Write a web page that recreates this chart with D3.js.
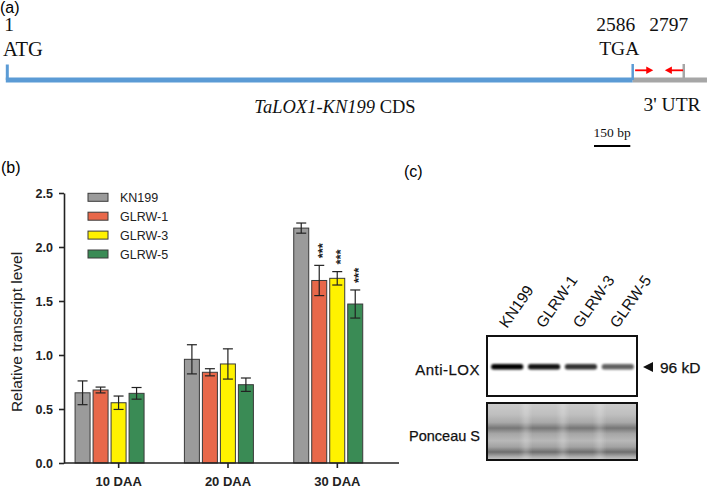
<!DOCTYPE html>
<html><head><meta charset="utf-8">
<script src="https://cdn.jsdelivr.net/npm/d3@7"></script>
<style>body{margin:0;background:#fff}svg{display:block}</style>
</head><body><svg id="c" width="709" height="489"></svg>
<script>
// ---------- Panel (a) data ----------
const geneMarks = [1, 2586, 2797];
const geneMarkLabels = ["1", "2586", "2797"];
const codonLabels = ["ATG", "TGA"];
const transcriptEnd = 2893;
const primerForward = [2596, 2671];
const primerReverse = [2794, 2719];
const scaleBarBp = 150;

// ---------- Panel (b) data ----------
const groups = ["10 DAA", "20 DAA", "30 DAA"];
const series = ["KN199", "GLRW-1", "GLRW-3", "GLRW-5"];
const seriesColors = ["#9b9b9b", "#e8684a", "#fff200", "#3a8b55"];
const kn199 = [0.65, 0.96, 2.175];
const kn199Err = [0.11, 0.135, 0.047];
const glrw1 = [0.676, 0.84, 1.69];
const glrw1Err = [0.027, 0.033, 0.14];
const glrw3 = [0.558, 0.917, 1.71];
const glrw3Err = [0.062, 0.14, 0.062];
const glrw5 = [0.645, 0.725, 1.472];
const glrw5Err = [0.054, 0.062, 0.13];
const stars = [["", "", "", ""], ["", "", "", ""], ["", "***", "***", "***"]];
const yTicks = [0, 0.5, 1.0, 1.5, 2.0, 2.5];

// ---------- Panel (c) data ----------
const lanes = ["KN199", "GLRW-1", "GLRW-3", "GLRW-5"];
const loxIntensity = [1.0, 0.92, 0.8, 0.62];
const blotLabels = ["Anti-LOX", "Ponceau S"];
const markerLabel = "96 kD";

const svg = d3.select("#c");
svg.append("rect").attr("width", 709).attr("height", 489).attr("fill", "#fff");
const sans = "'Liberation Sans', Arial, sans-serif";
const serif = "'Liberation Serif', 'Times New Roman', serif";

// ================= Panel (a) =================
const gA = svg.append("g");
gA.append("text").attr("x", 0).attr("y", 12.5).attr("font-family", sans).attr("font-size", 16).text("(a)");
const bp = d3.scaleLinear().domain([1, 2586]).range([7.3, 632.7]);
const blue = "#5b9bd5", grey = "#a6a6a6";
gA.append("line").attr("x1", bp(1) - 1.5).attr("x2", bp(geneMarks[1])).attr("y1", 80).attr("y2", 80)
  .attr("stroke", blue).attr("stroke-width", 5);
gA.append("line").attr("x1", bp(geneMarks[1])).attr("x2", bp(transcriptEnd)).attr("y1", 80).attr("y2", 80)
  .attr("stroke", grey).attr("stroke-width", 5);
gA.append("line").attr("x1", bp(geneMarks[0])).attr("x2", bp(geneMarks[0])).attr("y1", 64.5).attr("y2", 80)
  .attr("stroke", blue).attr("stroke-width", 3);
gA.append("line").attr("x1", bp(geneMarks[1])).attr("x2", bp(geneMarks[1])).attr("y1", 64).attr("y2", 80)
  .attr("stroke", blue).attr("stroke-width", 2.5);
gA.append("line").attr("x1", bp(geneMarks[2])).attr("x2", bp(geneMarks[2])).attr("y1", 64).attr("y2", 80)
  .attr("stroke", grey).attr("stroke-width", 2.5);
function arrow(from, to) {
  const x1 = bp(from), x2 = bp(to), dir = Math.sign(x2 - x1), yy = 70.3;
  gA.append("line").attr("x1", x1).attr("x2", x2 - dir * 5).attr("y1", yy).attr("y2", yy)
    .attr("stroke", "#ff0000").attr("stroke-width", 1.8);
  gA.append("path").attr("d", `M${x2},${yy}L${x2 - dir * 7},${yy - 3.8}L${x2 - dir * 7},${yy + 3.8}Z`).attr("fill", "#ff0000");
}
arrow(primerForward[0], primerForward[1]);
arrow(primerReverse[0], primerReverse[1]);
const fsA = 19.5;
const numX = [bp(geneMarks[0]) - 3, bp(geneMarks[1]) - 17, bp(geneMarks[2]) - 15];
gA.selectAll("text.num").data(geneMarkLabels).join("text").attr("class", "num")
  .attr("x", (d, i) => numX[i]).attr("y", 31)
  .attr("text-anchor", (d, i) => i === 0 ? "start" : "middle")
  .attr("font-family", serif).attr("font-size", fsA).attr("fill", "#111").text(d => d);
gA.append("text").attr("x", 3).attr("y", 55.5).attr("font-family", serif).attr("font-size", 20.5).attr("fill", "#111").text(codonLabels[0]);
gA.append("text").attr("x", bp(geneMarks[1]) - 13.5).attr("y", 54.5).attr("text-anchor", "middle")
  .attr("font-family", serif).attr("font-size", fsA).attr("fill", "#111").text(codonLabels[1]);
const cds = gA.append("text").attr("x", 335).attr("y", 112.5).attr("text-anchor", "middle")
  .attr("font-family", serif).attr("font-size", 18.5).attr("fill", "#111");
cds.append("tspan").attr("font-style", "italic").text("TaLOX1-KN199");
cds.append("tspan").text(" CDS");
gA.append("text").attr("x", 672).attr("y", 110.5).attr("text-anchor", "middle")
  .attr("font-family", serif).attr("font-size", fsA).attr("fill", "#111").text("3' UTR");
const sbX = 594;
gA.append("text").attr("x", sbX + (bp(1 + scaleBarBp) - bp(1)) / 2).attr("y", 137).attr("text-anchor", "middle")
  .attr("font-family", serif).attr("font-size", 13.5).attr("fill", "#111").text(scaleBarBp + " bp");
gA.append("line").attr("x1", sbX).attr("x2", sbX + bp(1 + scaleBarBp) - bp(1)).attr("y1", 146).attr("y2", 146)
  .attr("stroke", "#000").attr("stroke-width", 2);

// ================= Panel (b) =================
const gB = svg.append("g");
gB.append("text").attr("x", 1).attr("y", 173).attr("font-family", sans).attr("font-size", 16).text("(b)");
const y = d3.scaleLinear().domain([0, 2.5]).range([463, 193]);
const xG = d3.scaleBand().domain(groups).range([64, 392]);
const xS = d3.scaleBand().domain(series).range([-43.6, 25.4]).paddingInner(1 / 6);
const vals = [kn199, glrw1, glrw3, glrw5];
const errs = [kn199Err, glrw1Err, glrw3Err, glrw5Err];
const barData = [];
groups.forEach((g, gi) => series.forEach((s, si) => barData.push({
  g, s, si, v: vals[si][gi], e: errs[si][gi], star: stars[gi][si]
})));
const bx = d => xG(d.g) + xG.bandwidth() / 2 + xS(d.s);
gB.selectAll("rect.bar").data(barData).join("rect").attr("class", "bar")
  .attr("x", bx).attr("width", xS.bandwidth())
  .attr("y", d => y(d.v)).attr("height", d => y(0) - y(d.v))
  .attr("fill", d => seriesColors[d.si]).attr("stroke", "#3a3a3a").attr("stroke-width", 1);
const eb = gB.selectAll("g.err").data(barData).join("g").attr("class", "err")
  .attr("stroke", "#222").attr("stroke-width", 1.2);
const cx = d => bx(d) + xS.bandwidth() / 2;
eb.append("line").attr("x1", cx).attr("x2", cx).attr("y1", d => y(d.v + d.e)).attr("y2", d => y(d.v - d.e));
eb.append("line").attr("x1", d => cx(d) - 5).attr("x2", d => cx(d) + 5).attr("y1", d => y(d.v + d.e)).attr("y2", d => y(d.v + d.e));
eb.append("line").attr("x1", d => cx(d) - 5).attr("x2", d => cx(d) + 5).attr("y1", d => y(d.v - d.e)).attr("y2", d => y(d.v - d.e));
gB.selectAll("text.star").data(barData.filter(d => d.star)).join("text").attr("class", "star")
  .attr("transform", d => `translate(${cx(d)},${y(d.v + d.e) - 7}) rotate(-90)`)
  .attr("dy", "0.58em").attr("font-family", sans).attr("font-size", 13).attr("font-weight", "bold")
  .attr("fill", "#222").text(d => d.star);
const yAxis = gB.append("g").attr("transform", "translate(64,0)")
  .call(d3.axisLeft(y).tickValues(yTicks).tickFormat(d3.format(".1f")).tickSize(5).tickSizeOuter(0).tickPadding(6));
yAxis.selectAll("path,line").attr("stroke", "#222").attr("stroke-width", 1.6);
yAxis.selectAll("text").attr("font-family", sans).attr("font-size", 12.5).attr("font-weight", "bold").attr("fill", "#222");
const xAxis = gB.append("g").attr("transform", "translate(0,463)")
  .call(d3.axisBottom(xG).tickSize(5).tickSizeOuter(0).tickPadding(9));
xAxis.select("path.domain").attr("d", "M64,0H399");
xAxis.selectAll("path,line").attr("stroke", "#222").attr("stroke-width", 1.6);
xAxis.selectAll("text").attr("font-family", sans).attr("font-size", 13).attr("font-weight", "bold").attr("fill", "#222");
gB.append("text").attr("transform", "translate(21.5,332) rotate(-90)").attr("text-anchor", "middle")
  .attr("font-family", sans).attr("font-size", 15.5).attr("fill", "#222").text("Relative transcript level");
const leg = gB.selectAll("g.leg").data(series).join("g").attr("class", "leg")
  .attr("transform", (d, i) => `translate(88,${193.3 + i * 18.9})`);
leg.append("rect").attr("width", 20).attr("height", 8)
  .attr("fill", (d, i) => seriesColors[i]).attr("stroke", "#3a3a3a").attr("stroke-width", 1);
leg.append("text").attr("x", 32).attr("y", 4).attr("dy", "0.36em").attr("font-family", sans)
  .attr("font-size", 12.5).attr("fill", "#222").text(d => d);

// ================= Panel (c) =================
const gC = svg.append("g");
gC.append("text").attr("x", 404).attr("y", 177).attr("font-family", sans).attr("font-size", 16).text("(c)");
const defs = svg.append("defs");
defs.append("filter").attr("id", "blur1").attr("x", "-20%").attr("y", "-100%").attr("width", "140%").attr("height", "300%")
  .append("feGaussianBlur").attr("stdDeviation", 1.0);
defs.append("filter").attr("id", "blur2").attr("x", "-50%").attr("y", "-50%").attr("width", "200%").attr("height", "200%")
  .append("feGaussianBlur").attr("stdDeviation", 2.5);
defs.append("clipPath").attr("id", "ponClip").append("rect").attr("x", 487).attr("y", 403).attr("width", 150).attr("height", 57);
const lane = d3.scaleBand().domain(lanes).range([489, 635]).paddingInner(0.1).paddingOuter(0.03);
gC.selectAll("text.lane").data(lanes).join("text").attr("class", "lane")
  .attr("transform", d => `translate(${lane(d) + 17},${329}) rotate(-55)`)
  .attr("font-family", sans).attr("font-size", 15.5).attr("fill", "#111").text(d => d);
gC.append("rect").attr("x", 487).attr("y", 336).attr("width", 150).attr("height", 60)
  .attr("fill", "#fff").attr("stroke", "#111").attr("stroke-width", 2);
gC.selectAll("rect.band").data(lanes).join("rect").attr("class", "band")
  .attr("x", d => lane(d) + 1).attr("width", lane.bandwidth() - 1)
  .attr("y", 364).attr("height", 5.5).attr("rx", 2.5)
  .attr("fill", "#000").attr("opacity", (d, i) => loxIntensity[i]).attr("filter", "url(#blur1)");
const pg = defs.append("linearGradient").attr("id", "pon").attr("x1", 0).attr("x2", 0).attr("y1", 0).attr("y2", 1);
[[0, "#cbcbcb"], [0.2, "#bfbfbf"], [0.34, "#a9a9a9"], [0.44, "#767676"], [0.54, "#a6a6a6"], [0.66, "#b8b8b8"],
 [0.77, "#a2a2a2"], [0.86, "#6e6e6e"], [0.94, "#ababab"], [1, "#cccccc"]]
  .forEach(s => pg.append("stop").attr("offset", s[0]).attr("stop-color", s[1]));
const pon = gC.append("g").attr("clip-path", "url(#ponClip)");
pon.append("rect").attr("x", 487).attr("y", 403).attr("width", 150).attr("height", 57).attr("fill", "url(#pon)");
pon.selectAll("rect.gap").data(lanes.slice(1)).join("rect").attr("class", "gap")
  .attr("x", d => lane(d) - 4).attr("width", 6).attr("y", 400).attr("height", 64)
  .attr("fill", "#fff").attr("opacity", 0.25).attr("filter", "url(#blur2)");
gC.append("rect").attr("x", 487).attr("y", 403).attr("width", 150).attr("height", 57)
  .attr("fill", "none").attr("stroke", "#111").attr("stroke-width", 2);
gC.append("text").attr("x", 480).attr("y", 374.5).attr("text-anchor", "end").attr("font-family", sans)
  .attr("font-size", 15).attr("letter-spacing", 0.5).attr("fill", "#111").attr("stroke", "#111").attr("stroke-width", 0.25)
  .text(blotLabels[0]);
gC.append("text").attr("x", 480).attr("y", 441).attr("text-anchor", "end").attr("font-family", sans)
  .attr("font-size", 14.5).attr("fill", "#111").attr("stroke", "#111").attr("stroke-width", 0.25).text(blotLabels[1]);
gC.append("path").attr("d", "M643,367L653,362L653,372Z").attr("fill", "#111");
gC.append("text").attr("x", 660).attr("y", 372.5).attr("font-family", sans).attr("font-size", 15.5)
  .attr("fill", "#111").attr("stroke", "#111").attr("stroke-width", 0.25).text(markerLabel);
</script></body></html>
